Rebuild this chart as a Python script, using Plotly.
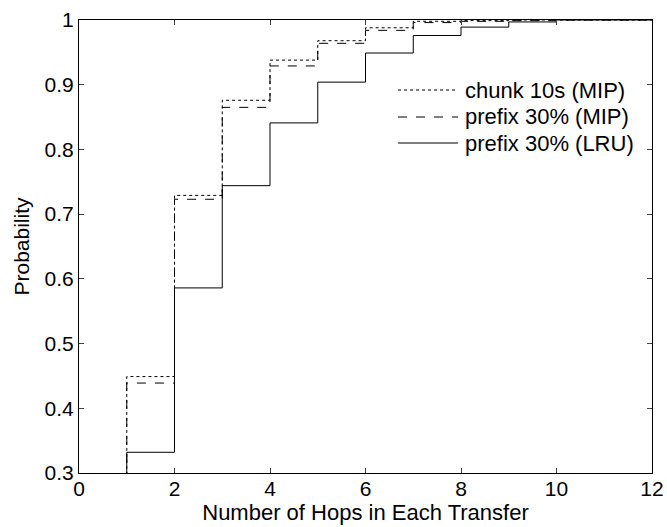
import plotly.graph_objects as go

hops = [0, 1, 2, 3, 4, 5, 6, 7, 8, 9, 10, 11, 12]
chunk_mip = [0.0, 0.449, 0.729, 0.876, 0.938, 0.968, 0.988, 0.998, 0.999, 1.0, 1.0, 1.0, 1.0]
prefix_mip = [0.0, 0.439, 0.723, 0.865, 0.929, 0.964, 0.984, 0.996, 0.998, 0.999, 1.0, 1.0, 1.0]
prefix_lru = [0.0, 0.332, 0.586, 0.744, 0.841, 0.904, 0.949, 0.976, 0.989, 0.997, 1.0, 1.0, 1.0]

names = ["chunk 10s (MIP)", "prefix 30% (MIP)", "prefix 30% (LRU)"]
dashes = ["dot", "dash", "solid"]
series = [chunk_mip, prefix_mip, prefix_lru]

x_ticks = [0, 2, 4, 6, 8, 10, 12]
y_ticks = [0.3, 0.4, 0.5, 0.6, 0.7, 0.8, 0.9, 1.0]
y_labels = ["0.3", "0.4", "0.5", "0.6", "0.7", "0.8", "0.9", "1"]

W, H = 667, 527
ML, MR, MT, MB = 79, 15, 20, 54
PW, PH = W - ML - MR, H - MT - MB

def px_x(p):
    return (p - ML) / PW

def px_y(p):
    return (H - MB - p) / PH

fig = go.Figure()
for name, ys, d in zip(names, series, dashes):
    fig.add_trace(go.Scatter(x=hops, y=ys, name=name, mode="lines", showlegend=False,
                             line=dict(shape="hv", dash=d, color="black", width=1)))

# manual legend (no box), matching the reference layout
legend_rows = [90, 117, 143]
for name, d, ry in zip(names, dashes, legend_rows):
    fig.add_shape(type="line", xref="paper", yref="paper",
                  x0=px_x(398), x1=px_x(458), y0=px_y(ry), y1=px_y(ry),
                  line=dict(color="black", width=1, dash=d))
    fig.add_annotation(text=name, xref="paper", yref="paper", x=px_x(463), y=px_y(ry),
                       xanchor="left", yanchor="middle", showarrow=False,
                       font=dict(size=22, color="black"))

font = "Liberation Sans, Arial, sans-serif"
fig.update_layout(
    width=W, height=H,
    margin=dict(l=ML, r=MR, t=MT, b=MB, autoexpand=False),
    paper_bgcolor="white", plot_bgcolor="white",
    font=dict(family=font, size=21, color="black"),
    showlegend=False,
    xaxis=dict(range=[0, 12], tickvals=x_ticks, ticks="inside", ticklen=5,
               showline=True, linecolor="black", linewidth=1, mirror="ticks",
               showgrid=False, zeroline=False, tickfont=dict(size=21), automargin=False,
               ticklabelstandoff=-3,
               title=dict(text="Number of Hops in Each Transfer", font=dict(size=22), standoff=2)),
    yaxis=dict(range=[0.3, 1.0], tickvals=y_ticks, ticktext=y_labels, ticks="inside", ticklen=5,
               showline=True, linecolor="black", linewidth=1, mirror="ticks",
               showgrid=False, zeroline=False, tickfont=dict(size=21), automargin=False,
               title=dict(text="Probability", font=dict(size=21), standoff=9)),
)

fig.write_html("out.html")
